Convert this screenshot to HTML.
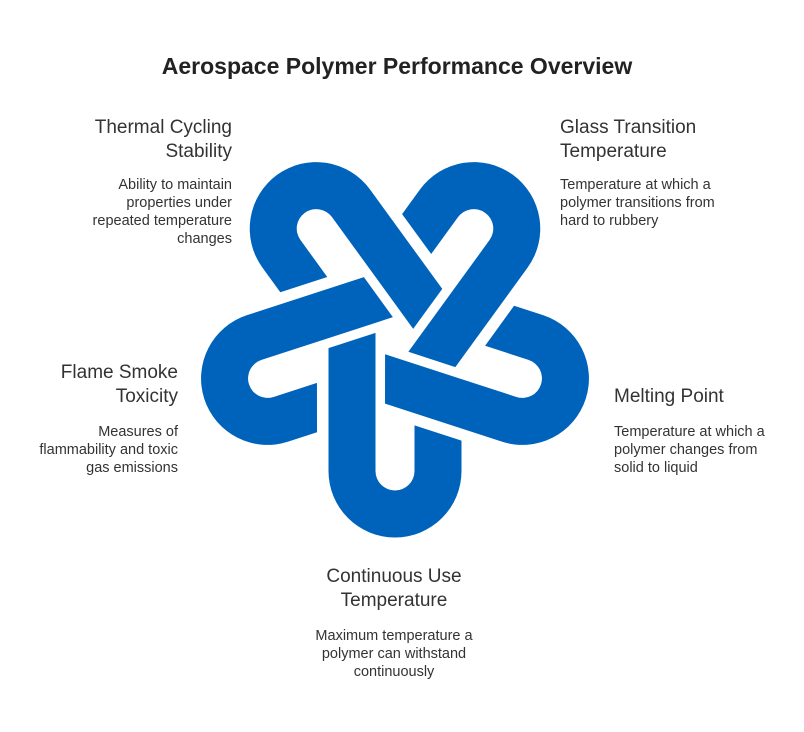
<!DOCTYPE html>
<html><head><meta charset="utf-8"><style>
body{margin:0;width:804px;height:732px;background:#fff;position:relative;overflow:hidden;font-family:"Liberation Sans",sans-serif;color:#333}
.t{position:absolute;font-size:19px;line-height:24px;color:#333;white-space:nowrap}
.d{position:absolute;font-size:14.5px;line-height:18px;color:#333;white-space:nowrap}
.r{text-align:right}.c{text-align:center}
</style></head><body>
<div style="position:absolute;left:0;width:794px;top:53px;text-align:center;font-size:23px;font-weight:bold;color:#222">Aerospace Polymer Performance Overview</div>
<svg width="804" height="732" style="position:absolute;left:0;top:0">
<defs><path id="L" fill="#0063bb" d="M -66.5,11.1 L -19.5,-4.1 L -19.5,134 A 19.5 19.5 0 0 0 19.5,134 L 19.5,88.4 L 66.5,103.6 L 66.5,134 A 66.5 66.5 0 0 1 -66.5,134 Z"/></defs>
<g transform="translate(395,337)">
<use href="#L"/>
<use href="#L" transform="rotate(72)"/>
<use href="#L" transform="rotate(144)"/>
<use href="#L" transform="rotate(216)"/>
<use href="#L" transform="rotate(288)"/>
</g></svg>
<div class="t r" style="right:572px;top:116px">Thermal Cycling<br>Stability</div>
<div class="d r" style="right:572px;top:176px">Ability to maintain<br>properties under<br>repeated temperature<br>changes</div>
<div class="t" style="left:560px;top:116px">Glass Transition<br>Temperature</div>
<div class="d" style="left:560px;top:176px">Temperature at which a<br>polymer transitions from<br>hard to rubbery</div>
<div class="t" style="left:614px;top:385px">Melting Point</div>
<div class="d" style="left:614px;top:423px">Temperature at which a<br>polymer changes from<br>solid to liquid</div>
<div class="t r" style="right:626px;top:361px">Flame Smoke<br>Toxicity</div>
<div class="d r" style="right:626px;top:423px">Measures of<br>flammability and toxic<br>gas emissions</div>
<div class="t c" style="left:244px;width:300px;top:565px">Continuous Use<br>Temperature</div>
<div class="d c" style="left:244px;width:300px;top:627px">Maximum temperature a<br>polymer can withstand<br>continuously</div>
</body></html>
